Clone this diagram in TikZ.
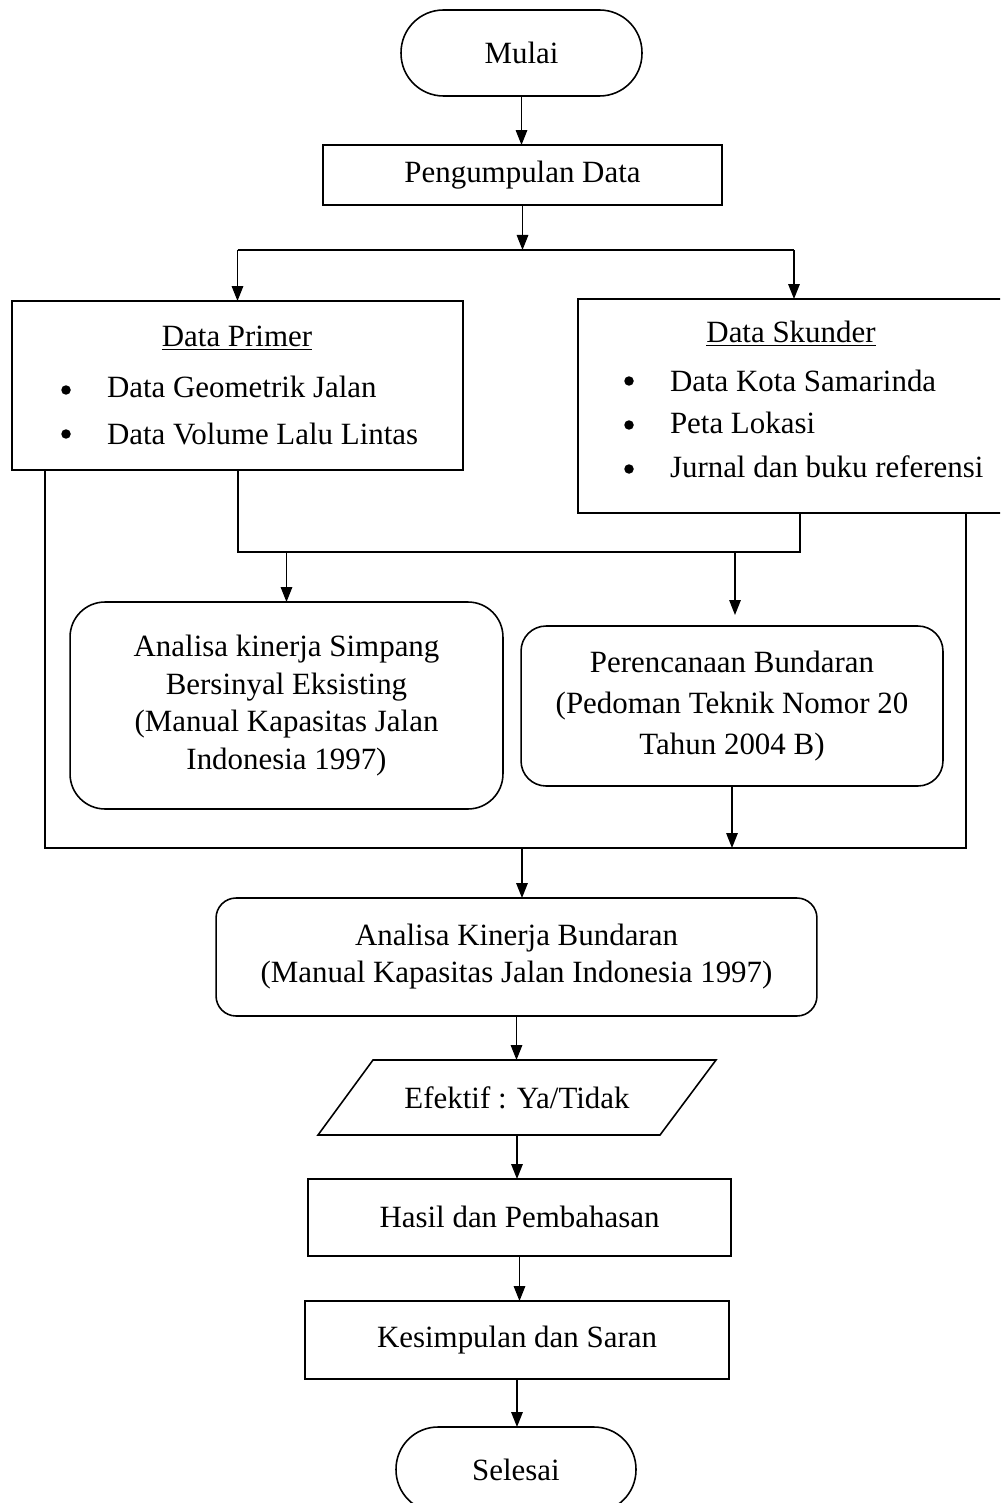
\documentclass[tikz,border=0pt]{standalone}
\usepackage{fontspec}
\setmainfont{Liberation Serif}
\usetikzlibrary{arrows.meta,calc}
\begin{document}
\begin{tikzpicture}[x=0.02cm,y=-0.02cm,
  every node/.style={font=\fontsize{17.6}{21.5}\selectfont, inner sep=0pt, outer sep=0pt},
  box/.style={draw, line width=0.9pt, rectangle, align=center},
  arr/.style={-{Triangle[length=0.3cm,width=0.23cm]}, line width=0.85pt},
  ln/.style={line width=0.85pt},
  bul/.style={circle, fill, minimum size=0.19cm, inner sep=0pt}]
\useasboundingbox (0,0) rectangle (1000,1503);
\clip (0,0) rectangle (1000,1503);

% terminals and boxes
\node[box, rounded corners=0.85cm, minimum width=4.82cm, minimum height=1.72cm] (mulai) at (521.5,53) {Mulai};
\node[box, minimum width=7.98cm, minimum height=1.2cm] (peng) at (522.5,175) {\raisebox{-3pt}{Pengumpulan Data}};

\node[box, minimum width=9.02cm, minimum height=3.38cm] (prim) at (237.5,385.5) {};
\node[anchor=base] (primT) at (237,347) {\underline{Data Primer}};
\node[bul] (pb1) at (66,390) {};
\node[bul] (pb2) at (66,434) {};
\node[anchor=base west] (pt1) at (107,398) {Data Geometrik Jalan};
\node[anchor=base west] (pt2) at (107,444) {Data Volume Lalu Lintas};

\node[box, minimum width=8.64cm, minimum height=4.28cm] (skun) at (794,406) {};
\node[anchor=base] (skunT) at (791,343) {\underline{Data Skunder}};
\node[bul] (sb1) at (629,381) {};
\node[bul] (sb2) at (629,425) {};
\node[bul] (sb3) at (629,469) {};
\node[anchor=base west] (st1) at (670,392) {Data Kota Samarinda};
\node[anchor=base west] (st2) at (670,433) {Peta Lokasi};
\node[anchor=base west] (st3) at (670,477) {Jurnal dan buku referensi};

\node[box, rounded corners=0.7cm, minimum width=8.66cm, minimum height=4.14cm] (ana) at (286.5,705.5)
  {Analisa kinerja Simpang\\Bersinyal Eksisting\\(Manual Kapasitas Jalan\\Indonesia 1997)};

\node[box, rounded corners=0.5cm, minimum width=8.44cm, minimum height=3.2cm] (per) at (732,706)
  {Perencanaan Bundaran\\[2pt](Pedoman Teknik Nomor 20\\[2pt]Tahun 2004 B)};

\node[box, rounded corners=0.4cm, minimum width=12.02cm, minimum height=2.36cm] (bund) at (516.5,957)
  {Analisa Kinerja Bundaran\\[-0.5pt](Manual Kapasitas Jalan Indonesia 1997)};

% parallelogram
\draw[line width=0.9pt] (373,1060) coordinate (pTL) -- (716,1060) coordinate (pTR)
  -- (660,1135) coordinate (pBR) -- (318,1135) coordinate (pBL) -- cycle;
\node[minimum height=1.5cm] (eff) at (517,1097.5) {Efektif : Ya/Tidak};

\node[box, minimum width=8.46cm, minimum height=1.54cm] (hasil) at (519.5,1217.5) {\raisebox{1pt}{Hasil dan Pembahasan}};
\node[box, minimum width=8.48cm, minimum height=1.56cm] (kes) at (517,1340) {Kesimpulan dan Saran};
\node[box, rounded corners=0.84cm, minimum width=4.8cm, minimum height=1.7cm] (sel) at (516,1469.5) {Selesai};

% connectors
\coordinate (j1) at (522,250);
\coordinate (j2) at (238,552);
\coordinate (j2r) at (800,552);
\coordinate (j3l) at (45,848);
\coordinate (j3r) at (966,848);
\coordinate (j4) at (522,848);
\coordinate (pa) at (735,615);

\draw[arr] (mulai.south) -- (mulai.south |- peng.north);
\draw[arr] (peng.south) -- (peng.south |- j1);
\draw[ln] (prim.north |- j1) -- (skun.north |- j1);
\draw[arr] (prim.north |- j1) -- (prim.north);
\draw[arr] (skun.north |- j1) -- (skun.north);

\draw[ln] (prim.south -| j3l) -- (j3l) -- (j3r) -- (skun.south -| j3r);
\draw[ln] (prim.south -| j2) -- (j2) -- (j2r) -- (skun.south -| j2r);
\draw[arr] (j2 -| ana.north) -- (ana.north);
\draw[arr] (j2 -| pa) -- (pa);
\draw[arr] (per.south) -- (per.south |- j3l);
\draw[arr] (j4) -- (j4 |- bund.north);
\draw[arr] (bund.south) -- (bund.south |- eff.north);
\draw[arr] (eff.south) -- (eff.south |- hasil.north);
\draw[arr] (hasil.south) -- (hasil.south |- kes.north);
\draw[arr] (kes.south) -- (kes.south |- sel.north);
\end{tikzpicture}
\end{document}
